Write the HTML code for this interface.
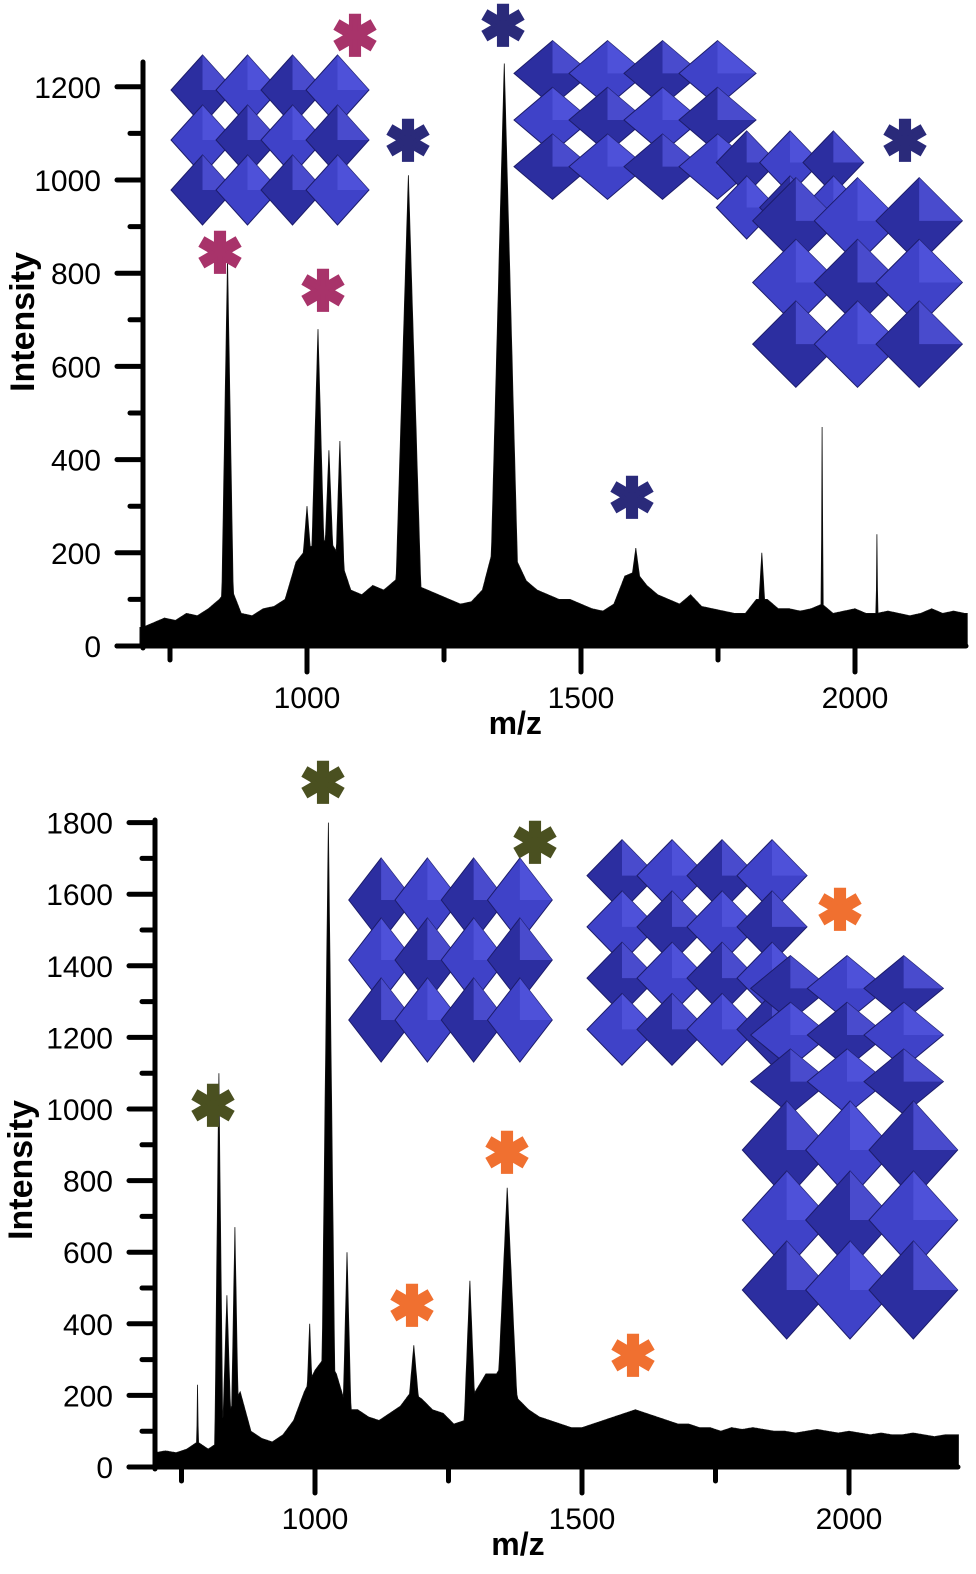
<!DOCTYPE html>
<html><head><meta charset="utf-8"><style>
body{margin:0;background:#fff}
svg{display:block;font-family:"Liberation Sans",sans-serif}
</style></head><body>
<svg id="fig" width="976" height="1574" viewBox="0 0 976 1574">
<g id="deco"></g>
<g id="top"></g>
<g id="bot"></g>
<g id="stars"></g>
</svg>
<script>
const NS="http://www.w3.org/2000/svg";
// ---- data: top spectrum ----
const topBaseMz=[700,720,740,760,780,800,820,840,860,880,900,920,940,960,980,1000,1020,1040,1060,1080,1100,1120,1140,1160,1180,1200,1220,1240,1260,1280,1300,1320,1340,1360,1380,1400,1420,1440,1460,1480,1500,1520,1540,1560,1580,1600,1620,1640,1660,1680,1700,1720,1740,1760,1780,1800,1820,1840,1860,1880,1900,1920,1940,1960,1980,2000,2020,2040,2060,2080,2100,2120,2140,2160,2180,2200];
const topBase=[40,50,60,55,70,65,80,100,130,70,65,80,85,100,180,210,220,230,190,120,110,130,120,140,160,130,120,110,100,90,95,120,210,260,190,140,120,110,100,100,90,80,75,90,150,160,130,110,100,90,110,85,80,75,70,70,100,100,80,80,75,80,90,70,75,80,70,70,75,70,65,70,80,70,75,70];
const topPeaks=[[855,830,6],[1020,680,8],[1040,420,7],[1060,440,6],[1000,300,10],[1185,1010,13],[1360,1250,14],[1600,210,12],[1940,470,1],[1830,200,5],[2040,240,1]];
const topTicksY=[0,200,400,600,800,1000,1200];
const topTicksX=[1000,1500,2000];
const topMinorX=[750,1250,1750];
// ---- data: bottom spectrum ----
const botBaseMz=topBaseMz;
const botBase=[40,45,40,50,70,50,70,160,210,100,80,70,90,130,210,270,310,260,160,160,140,130,150,170,210,190,160,150,120,130,210,260,260,310,190,160,140,130,120,110,110,120,130,140,150,160,150,140,130,120,120,110,110,100,110,105,110,105,100,100,95,100,105,100,95,100,95,90,95,90,90,95,90,85,90,90];
const botPeaks=[[820,1100,4],[835,480,5],[850,670,4],[780,230,1],[990,400,5],[1025,1800,7],[1060,600,5],[1185,340,10],[1290,520,7],[1360,780,12],[1600,150,12]];
const botTicksY=[0,200,400,600,800,1000,1200,1400,1600,1800];
const botTicksX=[1000,1500,2000];
const botMinorX=[750,1250,1750];

function el(tag,attrs,parent){const e=document.createElementNS(NS,tag);for(const k in attrs)e.setAttribute(k,attrs[k]);parent.appendChild(e);return e;}

function spectrum(g,cfg,baseMz,base,peaks,ty,tx,mx){
  const X=m=>cfg.x0+(m-1000)*cfg.sx, Y=v=>cfg.y0-v*cfg.sy;
  const mzs=[];for(let m=cfg.mzMin;m<=cfg.mzMax;m+=1)mzs.push(m);
  const baseAt=m=>{let i=0;while(i<baseMz.length-2&&baseMz[i+1]<m)i++;const t=Math.min(1,Math.max(0,(m-baseMz[i])/(baseMz[i+1]-baseMz[i])));return base[i]*(1-t)+base[i+1]*t;};
  let d="M"+X(cfg.mzMin)+","+Y(0);
  mzs.forEach(m=>{let v=baseAt(m);peaks.forEach(p=>{const dd=Math.abs(m-p[0]);if(dd<=p[2]*2){const pv=p[1]*Math.max(0,1-dd/(p[2]*2));v=Math.max(v,pv);}});d+=" L"+X(m).toFixed(1)+","+Y(v).toFixed(1);});
  d+=" L"+X(cfg.mzMax)+","+Y(0)+" Z";
  const p=el("path",{d:d,fill:"#000",stroke:"#111","stroke-width":"0.8"},g);
  
  
  const ya=el("line",{x1:cfg.ax,y1:Y(0)+2,x2:cfg.ax,y2:cfg.yTop,stroke:"#000","stroke-width":5,"stroke-linecap":"round"},g);
  
  
  const xa=el("line",{x1:cfg.ax-26,y1:Y(0),x2:cfg.xEnd,y2:Y(0),stroke:"#000","stroke-width":5,"stroke-linecap":"round"},g);
  
  
  ty.forEach((v,i)=>{
    el("line",{x1:cfg.ax-26,y1:Y(v),x2:cfg.ax,y2:Y(v),stroke:"#000","stroke-width":5,"stroke-linecap":"round"},g);
    const mid=v+(ty[1]-ty[0])/2;if(i<ty.length-1)el("line",{x1:cfg.ax-13,y1:Y(mid),x2:cfg.ax,y2:Y(mid),stroke:"#000","stroke-width":5,"stroke-linecap":"round"},g);
    const t=el("text",{x:cfg.ax-42,y:Y(v)+11,"text-anchor":"end","font-size":30},g);t.textContent=v;
    
    
  });
  tx.forEach(v=>{
    el("line",{x1:X(v),y1:Y(0),x2:X(v),y2:Y(0)+26,stroke:"#000","stroke-width":5,"stroke-linecap":"round"},g);
    const t=el("text",{x:X(v),y:Y(0)+62,"text-anchor":"middle","font-size":30},g);t.textContent=v;
    
    
  });
  mx.forEach(v=>el("line",{x1:X(v),y1:Y(0),x2:X(v),y2:Y(0)+14,stroke:"#000","stroke-width":5,"stroke-linecap":"round"},g));
  const xl=el("text",{x:X(1380),y:Y(0)+88,"text-anchor":"middle","font-size":32,"font-weight":"bold"},g);xl.textContent="m/z";
  
  
  const yl=el("text",{x:0,y:0,"text-anchor":"middle","font-size":34,"font-weight":"bold",transform:`translate(${cfg.ylX},${cfg.ylY}) rotate(-90)`},g);yl.textContent="Intensity";
  
  
}
spectrum(document.getElementById('top'),{x0:307,sx:0.548,y0:646,sy:0.466,mzMin:695,mzMax:2205,ax:143,yTop:62,xEnd:966,ylX:34,ylY:322},topBaseMz,topBase,topPeaks,topTicksY,topTicksX,topMinorX);
spectrum(document.getElementById('bot'),{x0:315,sx:0.534,y0:1467,sy:0.358,mzMin:700,mzMax:2205,ax:155,yTop:820,xEnd:958,ylX:32,ylY:1170},botBaseMz,botBase,botPeaks,botTicksY,botTicksX,botMinorX);

const deco=document.getElementById('deco');
function cluster(cx,cy,w,h,cols,rows,name){
  const g=el("g",{},deco);
  
  
  const cw=w/cols,ch=h/rows,k=0.2;
  for(let r=0;r<rows;r++)for(let c=0;c<cols;c++){
    const x=cx+c*cw,y=cy+r*ch,ex=cw*k,ey=ch*k;
    el("polygon",{points:`${x+cw/2},${y-ey} ${x+cw+ex},${y+ch/2} ${x+cw/2},${y+ch+ey} ${x-ex},${y+ch/2}`,fill:(r+c)%2?"#3f42c8":"#2c2ea0",stroke:"#1c1c6a","stroke-width":1},g);
    el("polygon",{points:`${x+cw/2},${y-ey} ${x+cw+ex},${y+ch/2} ${x+cw/2},${y+ch/2}`,fill:"#5558e0",opacity:0.7},g);
  }
}
cluster(180,65,180,150,4,3,"cluster-top-left");
cluster(525,50,220,140,4,3,"cluster-top-right-a");
cluster(725,140,130,90,3,2,"cluster-top-right-b");
cluster(765,190,185,185,3,3,"cluster-top-right-c");
cluster(358,870,185,180,4,3,"cluster-bottom-middle");
cluster(597,850,200,205,4,4,"cluster-bottom-right-a");
cluster(762,965,170,140,3,3,"cluster-bottom-right-b");
cluster(755,1115,190,210,3,3,"cluster-bottom-right-c");

const stars=[[355,38,"#a8336a"],[503,28,"#2a2a7a"],[408,143,"#2a2a7a"],[905,143,"#2a2a7a"],[220,255,"#a8336a"],[323,293,"#a8336a"],[632,500,"#2a2a7a"],
 [323,785,"#4a5020"],[535,845,"#4a5020"],[840,912,"#f07030"],[213,1108,"#4a5020"],[507,1155,"#f07030"],[412,1308,"#f07030"],[633,1358,"#f07030"]];
const sg=document.getElementById('stars');
stars.forEach(s=>{
  const t=el("text",{x:s[0],y:s[1]+17,"text-anchor":"middle","font-size":54,"font-weight":"bold",fill:s[2],stroke:s[2],"stroke-width":2},sg);
  t.textContent="✱";
  
  
});
</script>
</body></html>
